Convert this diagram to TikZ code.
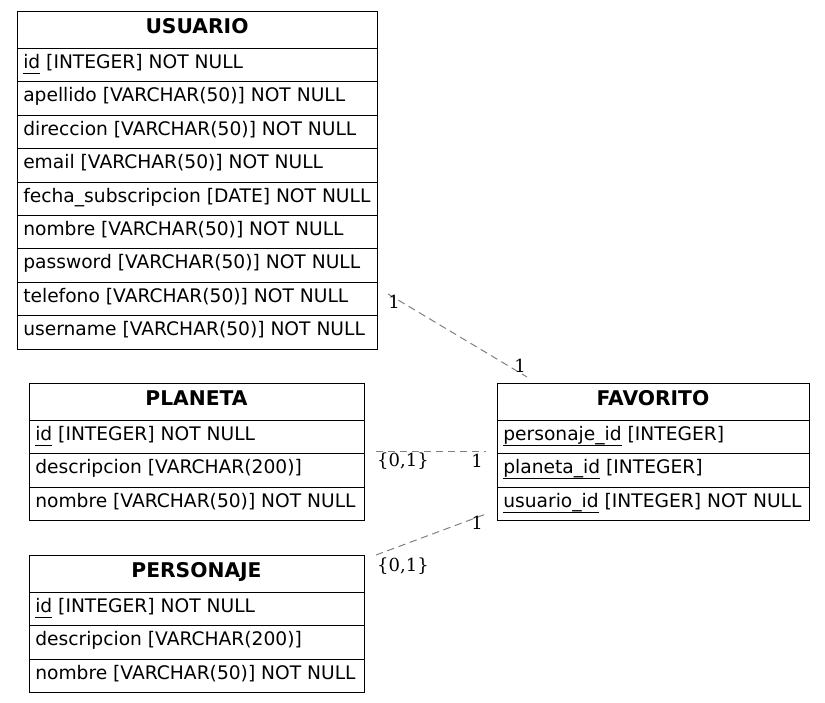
\documentclass[tikz,border=0pt]{standalone}
\usepackage{fontspec}
\setmainfont{DejaVu Sans}
\newfontfamily\lblfont{DejaVu Serif}
\usetikzlibrary{calc}

\newcommand\pk[1]{\setbox0\hbox{#1}\rlap{\rule[-4pt]{\wd0}{0.7pt}}\box0\relax}

\tikzset{
  boxpart/.style={draw=black, line width=0.8pt, inner sep=0pt, anchor=north west},
  hdr/.style={font=\fontsize{15.2}{18}\selectfont\bfseries, anchor=base, inner sep=0pt},
  fld/.style={font=\fontsize{14}{16}\selectfont, anchor=base west, inner sep=0pt},
  rel/.style={draw=black!50, line width=0.75pt, dash pattern=on 5.5pt off 3.5pt},
  card/.style={font=\lblfont\fontsize{13.5}{16}\selectfont, inner sep=0pt},
}

% #1 name, #2 x, #3 y, #4 width, #5 title, #6 rows
\newcommand\ertable[6]{%
  \node[boxpart, minimum width=#4*0.75pt, minimum height=37*0.75pt] (#1-h) at (#2,#3) {};
  \node[hdr] (#1-t) at ({#2+#4/2},{#3+22}) {#5};
  \foreach \r [count=\i] in {#6} {
    \node[boxpart, minimum width=#4*0.75pt, minimum height=33.4*0.75pt] (#1-\i) at (#2,{#3+37+(\i-1)*33.4}) {};
    \node[fld] (#1-txt\i) at ({#2+6},{#3+37+(\i-1)*33.4+20.5}) {\r};
  }
}

\begin{document}
\begin{tikzpicture}[x=0.75pt, y=-0.75pt]
\useasboundingbox (0,0) rectangle (825,703);

\ertable{usuario}{17}{11}{360}{USUARIO}{%
  {\pk{id} [INTEGER] NOT NULL},
  {apellido [VARCHAR(50)] NOT NULL},
  {direccion [VARCHAR(50)] NOT NULL},
  {email [VARCHAR(50)] NOT NULL},
  {fecha\_subscripcion [DATE] NOT NULL},
  {nombre [VARCHAR(50)] NOT NULL},
  {password [VARCHAR(50)] NOT NULL},
  {telefono [VARCHAR(50)] NOT NULL},
  {username [VARCHAR(50)] NOT NULL}}

\ertable{planeta}{29}{383}{335}{PLANETA}{%
  {\pk{id} [INTEGER] NOT NULL},
  {descripcion [VARCHAR(200)]},
  {nombre [VARCHAR(50)] NOT NULL}}

\ertable{personaje}{29}{555}{335}{PERSONAJE}{%
  {\pk{id} [INTEGER] NOT NULL},
  {descripcion [VARCHAR(200)]},
  {nombre [VARCHAR(50)] NOT NULL}}

\ertable{favorito}{497}{383}{312}{FAVORITO}{%
  {\pk{personaje\_id} [INTEGER]},
  {\pk{planeta\_id} [INTEGER]},
  {\pk{usuario\_id} [INTEGER] NOT NULL}}

% relations
\coordinate (r1a) at (388,294);
\coordinate (r1b) at (527,377);
\draw[rel] (r1a) -- (r1b);
\node[card] (r1la) at (394,302) {1};
\node[card] (r1lb) at (520,366) {1};

\coordinate (r2a) at (376,451);
\coordinate (r2b) at (486,451);
\draw[rel] (r2a) -- (r2b);
\node[card] (r2la) at (403,461) {\{0,1\}};
\node[card] (r2lb) at (477,461) {1};

\coordinate (r3a) at (376,555);
\coordinate (r3b) at (486,514);
\draw[rel] (r3a) -- (r3b);
\node[card] (r3la) at (477,523) {1};
\node[card] (r3lb) at (403,566) {\{0,1\}};
\end{tikzpicture}
\end{document}
